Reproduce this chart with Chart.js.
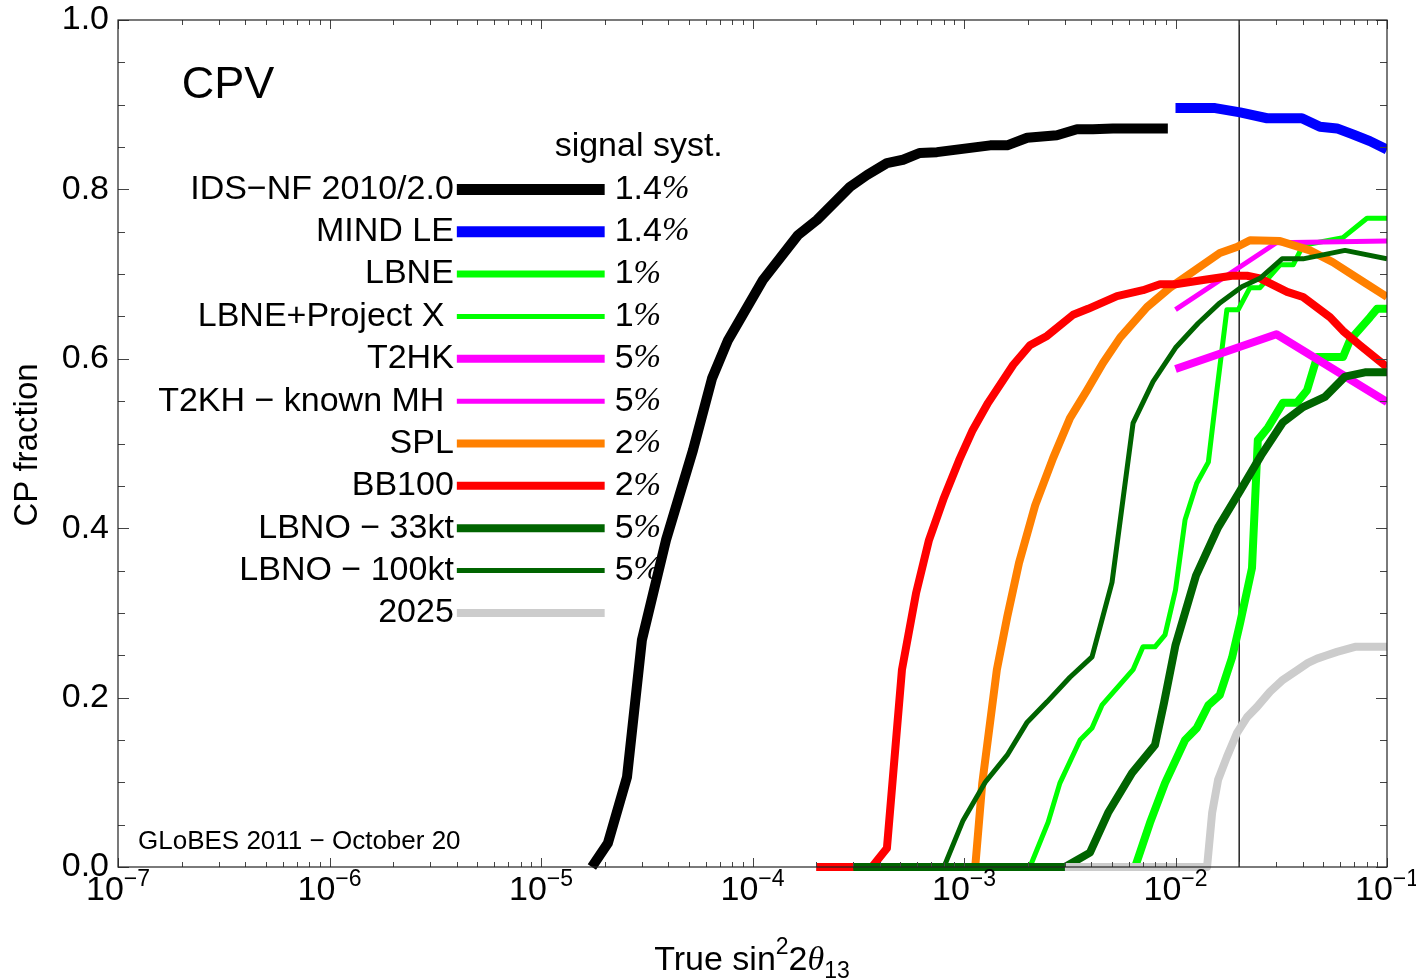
<!DOCTYPE html>
<html><head><meta charset="utf-8">
<script src="https://cdn.jsdelivr.net/npm/chart.js@4"></script>
<style>html,body{margin:0;padding:0;background:#fff}#c{display:block}</style>
</head><body>
<canvas id="c" width="1416" height="978"></canvas>
<script>
const SANS = '"Liberation Sans", Arial, Helvetica, sans-serif';
const SERIF = '"Liberation Serif", "Times New Roman", serif';

// ---- tick labels ----
const xTickExponents = [-7, -6, -5, -4, -3, -2, -1];
const yTickLabels = ['0.0', '0.2', '0.4', '0.6', '0.8', '1.0'];
const yTickValues = [0, 0.2, 0.4, 0.6, 0.8, 1.0];

// ---- series data (x = true sin^2 2theta13, y = CP fraction) ----
const idsnfX = [1.74e-5, 2.07e-5, 2.55e-5, 3.0e-5, 3.9e-5, 5.23e-5, 6.44e-5, 7.66e-5, 1.12e-4, 1.64e-4, 2.02e-4, 2.89e-4, 3.48e-4, 4.32e-4, 5.15e-4, 6.19e-4, 7.45e-4, 1.33e-3, 1.6e-3, 1.99e-3, 2.75e-3, 3.42e-3, 4.07e-3, 5.06e-3, 9.2e-3];
const idsnfY = [0, 0.028, 0.106, 0.268, 0.386, 0.492, 0.577, 0.622, 0.693, 0.746, 0.764, 0.803, 0.817, 0.831, 0.835, 0.843, 0.844, 0.852, 0.852, 0.861, 0.864, 0.871, 0.871, 0.872, 0.872];

const mindX = [1e-2, 1.54e-2, 2.02e-2, 2.71e-2, 3.96e-2, 4.82e-2, 5.8e-2, 6.9e-2, 8.3e-2, 0.1];
const mindY = [0.896, 0.896, 0.891, 0.884, 0.884, 0.874, 0.872, 0.865, 0.857, 0.847];

const lbneX = [6.44e-3, 7.57e-3, 8.92e-3, 1.11e-2, 1.26e-2, 1.43e-2, 1.62e-2, 1.85e-2, 2.02e-2, 2.3e-2, 2.45e-2, 2.74e-2, 3.22e-2, 3.75e-2, 4.19e-2, 4.67e-2, 6.19e-2, 6.68e-2, 8.31e-2, 8.97e-2, 0.1];
const lbneY = [0, 0.052, 0.099, 0.15, 0.164, 0.191, 0.203, 0.247, 0.288, 0.353, 0.504, 0.519, 0.548, 0.548, 0.563, 0.602, 0.602, 0.622, 0.649, 0.659, 0.659];

const lbnepxX = [2.05e-3, 2.5e-3, 2.84e-3, 3.54e-3, 4.03e-3, 4.49e-3, 6.3e-3, 7.02e-3, 8.0e-3, 8.92e-3, 1e-2, 1.11e-2, 1.26e-2, 1.43e-2, 1.57e-2, 1.75e-2, 1.98e-2, 2.25e-2, 2.51e-2, 3.12e-2, 3.6e-2, 4.01e-2, 6.19e-2, 8.04e-2, 0.1];
const lbnepxY = [0, 0.053, 0.099, 0.15, 0.164, 0.191, 0.233, 0.26, 0.26, 0.274, 0.327, 0.41, 0.453, 0.478, 0.563, 0.658, 0.658, 0.684, 0.684, 0.711, 0.711, 0.734, 0.743, 0.766, 0.766];

const t2hkX = [1e-2, 3e-2, 0.1];
const t2hkY = [0.588, 0.629, 0.549];

const t2khX = [1e-2, 3e-2, 0.1];
const t2khY = [0.658, 0.737, 0.739];

const splX = [1.13e-3, 1.22e-3, 1.43e-3, 1.6e-3, 1.82e-3, 2.17e-3, 2.64e-3, 3.17e-3, 3.82e-3, 4.54e-3, 5.47e-3, 7.33e-3, 9.42e-3, 1.26e-2, 1.62e-2, 1.95e-2, 2.25e-2, 3.12e-2, 4.32e-2, 5.55e-2, 7.7e-2, 0.1];
const splY = [0, 0.099, 0.233, 0.295, 0.359, 0.427, 0.483, 0.53, 0.563, 0.595, 0.625, 0.661, 0.684, 0.706, 0.725, 0.732, 0.74, 0.739, 0.728, 0.714, 0.691, 0.673];

const bb100X = [2e-4, 3.67e-4, 4.32e-4, 5.09e-4, 5.93e-4, 6.83e-4, 8.04e-4, 9.47e-4, 1.1e-3, 1.3e-3, 1.71e-3, 2.05e-3, 2.47e-3, 3.28e-3, 3.86e-3, 5.29e-3, 7.02e-3, 8.45e-3, 1e-2, 1.35e-2, 1.85e-2, 2.18e-2, 2.51e-2, 3.37e-2, 4.01e-2, 5.38e-2, 6.19e-2, 7.45e-2, 0.1];
const bb100Y = [0, 0, 0.022, 0.233, 0.323, 0.386, 0.436, 0.48, 0.516, 0.548, 0.593, 0.616, 0.627, 0.652, 0.659, 0.674, 0.681, 0.688, 0.688, 0.693, 0.698, 0.698, 0.695, 0.679, 0.673, 0.649, 0.633, 0.616, 0.59];

const lbno33X = [3e-4, 3e-3, 3.94e-3, 4.8e-3, 6.23e-3, 8.0e-3, 8.83e-3, 1e-2, 1.25e-2, 1.59e-2, 2.02e-2, 2.54e-2, 3.22e-2, 4.01e-2, 5.09e-2, 6.33e-2, 7.87e-2, 0.1];
const lbno33Y = [0, 0, 0.017, 0.064, 0.111, 0.144, 0.194, 0.262, 0.344, 0.401, 0.444, 0.486, 0.525, 0.543, 0.555, 0.579, 0.584, 0.584];

const lbno100X = [3e-4, 8.04e-4, 9.9e-4, 1.26e-3, 1.6e-3, 1.99e-3, 2.47e-3, 3.17e-3, 4.03e-3, 5.01e-3, 6.3e-3, 7.83e-3, 1e-2, 1.28e-2, 1.62e-2, 2.06e-2, 2.51e-2, 3.19e-2, 4.01e-2, 6.33e-2, 0.1];
const lbno100Y = [0, 0, 0.055, 0.1, 0.132, 0.171, 0.195, 0.224, 0.248, 0.336, 0.524, 0.573, 0.613, 0.642, 0.666, 0.685, 0.695, 0.718, 0.718, 0.728, 0.718];

const y2025X = [3e-3, 1.41e-2, 1.49e-2, 1.59e-2, 1.75e-2, 1.95e-2, 2.18e-2, 2.43e-2, 2.8e-2, 3.22e-2, 3.8e-2, 4.23e-2, 4.67e-2, 5.2e-2, 5.8e-2, 7.06e-2, 0.1];
const y2025Y = [0, 0, 0.064, 0.103, 0.13, 0.158, 0.177, 0.189, 0.207, 0.221, 0.233, 0.241, 0.246, 0.25, 0.254, 0.26, 0.26];

const markerX = [0.02, 0.02];
const markerY = [0, 1];

// ---- legend ----
const legendNames = ['IDS\u2212NF 2010/2.0', 'MIND LE', 'LBNE', 'LBNE+Project X ', 'T2HK', 'T2KH \u2212 known MH ', 'SPL', 'BB100', 'LBNO \u2212 33kt', 'LBNO \u2212 100kt', '2025'];
const legendSyst = ['1.4', '1.4', '1', '1', '5', '5', '2', '2', '5', '5', ''];
const seriesColors = ['#000000', '#0000ff', '#00ff00', '#00ff00', '#ff00ff', '#ff00ff', '#ff8000', '#ff0000', '#006400', '#006400', '#cccccc'];
const seriesWidths = [10, 10, 8, 5, 8, 5, 8, 8, 8, 5, 8];
const legendWidths = [11, 11, 7, 5, 8, 5, 8, 8, 8, 5, 8];
const seriesX = [idsnfX, mindX, lbneX, lbnepxX, t2hkX, t2khX, splX, bb100X, lbno33X, lbno100X, y2025X];
const seriesY = [idsnfY, mindY, lbneY, lbnepxY, t2hkY, t2khY, splY, bb100Y, lbno33Y, lbno100Y, y2025Y];

const pts = (xs, ys) => xs.map((x, i) => ({x: x, y: ys[i]}));

const N = legendNames.length;
const datasets = legendNames.map((name, i) => ({
  label: name,
  data: pts(seriesX[i], seriesY[i]),
  borderColor: seriesColors[i],
  borderWidth: seriesWidths[i],
  order: N - i,
  clip: {left: 0, right: 0, top: 6, bottom: 8}
}));
datasets.push({
  label: 'marker',
  data: pts(markerX, markerY),
  borderColor: '#000000',
  borderWidth: 1.3,
  order: N + 5,
  clip: 0
});

function drawRich(ctx, segs, x, y, align) {
  let total = 0;
  segs.forEach(s => { ctx.font = s.font; s.w = ctx.measureText(s.t).width; total += s.w; });
  let cx = align === 'center' ? x - total / 2 : (align === 'right' ? x - total : x);
  ctx.textAlign = 'left';
  segs.forEach(s => { ctx.font = s.font; ctx.fillText(s.t, cx, y + (s.dy || 0)); cx += s.w; });
}

const F = '34px ' + SANS;
const FS = '23px ' + SANS;

const decor = {
  id: 'decor',
  beforeDatasetsDraw(chart) {
    const ctx = chart.ctx, xs = chart.scales.x, ys = chart.scales.y;
    ctx.save();
    ctx.fillStyle = '#000';
    // CPV
    ctx.font = '45px ' + SANS;
    ctx.textBaseline = 'middle';
    ctx.textAlign = 'left';
    ctx.fillText('CPV', xs.getPixelForValue(2e-7), ys.getPixelForValue(0.923));
    // header
    ctx.font = F;
    ctx.fillText('signal syst.', xs.getPixelForValue(1.16e-5), ys.getPixelForValue(0.85));
    const x0 = xs.getPixelForValue(4e-6), x1 = xs.getPixelForValue(2e-5);
    for (let i = 0; i < N; i++) {
      const yy = ys.getPixelForValue(0.8 - 0.05 * i);
      ctx.fillStyle = '#000';
      ctx.font = F;
      ctx.textAlign = 'right';
      ctx.textBaseline = 'middle';
      ctx.fillText(legendNames[i], x0 - 3, yy);
      ctx.strokeStyle = seriesColors[i];
      ctx.lineWidth = legendWidths[i];
      ctx.lineCap = 'butt';
      ctx.beginPath(); ctx.moveTo(x0, yy); ctx.lineTo(x1, yy); ctx.stroke();
      if (legendSyst[i]) {
        ctx.textBaseline = 'middle';
        drawRich(ctx, [{t: legendSyst[i], font: F}, {t: '%', font: 'italic 33px ' + SERIF}], x1 + 10, yy, 'left');
      }
    }
    // GLoBES stamp
    ctx.fillStyle = '#000';
    ctx.font = '26px ' + SANS;
    ctx.textAlign = 'left';
    ctx.textBaseline = 'middle';
    ctx.fillText('GLoBES 2011 \u2212 October 20', chart.chartArea.left + 20, ys.getPixelForValue(0.03));
    ctx.restore();
  },
  afterDraw(chart) {
    const ctx = chart.ctx, xs = chart.scales.x, ys = chart.scales.y, a = chart.chartArea;
    ctx.save();
    // ticks
    ctx.strokeStyle = '#444';
    ctx.lineWidth = 1;
    for (let e = -7; e <= -1; e++) {
      for (let m = 1; m <= 9; m++) {
        const v = m * Math.pow(10, e);
        if (v > 0.1 * 1.0001) break;
        const px = Math.round(xs.getPixelForValue(v)) + 0.5;
        const len = m === 1 ? 9 : 5;
        ctx.beginPath();
        ctx.moveTo(px, a.bottom); ctx.lineTo(px, a.bottom - len);
        ctx.moveTo(px, a.top); ctx.lineTo(px, a.top + len);
        ctx.stroke();
      }
    }
    for (let k = 0; k <= 20; k++) {
      const v = k * 0.05;
      const py = Math.round(ys.getPixelForValue(v)) + 0.5;
      const len = (k % 4 === 0) ? 11 : 7;
      ctx.beginPath();
      ctx.moveTo(a.left, py); ctx.lineTo(a.left + len, py);
      ctx.moveTo(a.right, py); ctx.lineTo(a.right - len, py);
      ctx.stroke();
    }
    // frame
    ctx.strokeStyle = '#222';
    ctx.lineWidth = 1.2;
    ctx.strokeRect(a.left, a.top, a.right - a.left, a.bottom - a.top);
    // y tick labels
    ctx.fillStyle = '#000';
    ctx.font = F;
    ctx.textAlign = 'right';
    ctx.textBaseline = 'middle';
    yTickValues.forEach((v, i) => ctx.fillText(yTickLabels[i], a.left - 9, ys.getPixelForValue(v)));
    // x tick labels
    ctx.textBaseline = 'alphabetic';
    xTickExponents.forEach(e => {
      const px = xs.getPixelForValue(Math.pow(10, e));
      drawRich(ctx, [{t: '10', font: F}, {t: '\u2212' + Math.abs(e), font: FS, dy: -14}], px, a.bottom + 33, 'center');
    });
    // axis titles
    drawRich(ctx, [
      {t: 'True sin', font: F},
      {t: '2', font: FS, dy: -16},
      {t: '2', font: F},
      {t: '\u03b8', font: 'italic 34px ' + SERIF},
      {t: '13', font: FS, dy: 8}
    ], 752, 970, 'center');
    ctx.save();
    ctx.translate(28, 445);
    ctx.rotate(-Math.PI / 2);
    ctx.font = '33px ' + SANS;
    ctx.textAlign = 'center';
    ctx.textBaseline = 'middle';
    ctx.fillText('CP fraction', 0, 0);
    ctx.restore();
    ctx.restore();
  }
};

new Chart(document.getElementById('c'), {
  type: 'line',
  data: {datasets: datasets},
  options: {
    responsive: false,
    animation: false,
    devicePixelRatio: 1,
    layout: {padding: {left: 118, right: 29, top: 20, bottom: 111}},
    elements: {
      point: {radius: 0, hoverRadius: 0},
      line: {tension: 0, borderCapStyle: 'butt', borderJoinStyle: 'round', fill: false}
    },
    scales: {
      x: {type: 'logarithmic', min: 1e-7, max: 0.1, display: false},
      y: {type: 'linear', min: 0, max: 1, display: false}
    },
    plugins: {legend: {display: false}, tooltip: {enabled: false}}
  },
  plugins: [decor]
});
</script>
</body></html>
